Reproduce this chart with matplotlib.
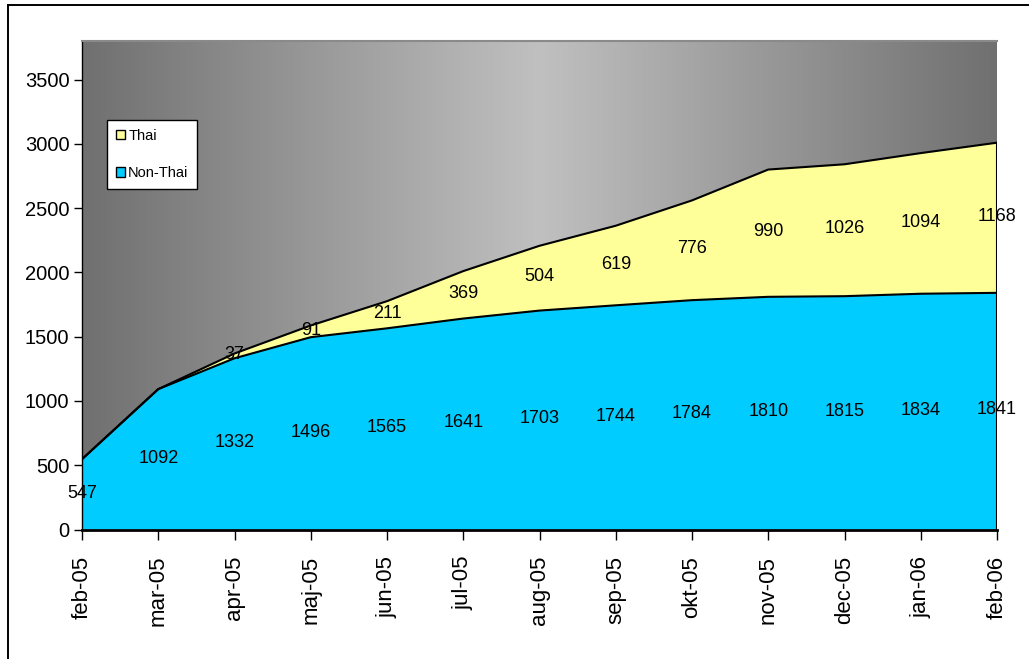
import numpy as np
import matplotlib
matplotlib.use("Agg")
import matplotlib.pyplot as plt
from matplotlib.patches import Patch
from matplotlib.lines import Line2D

plt.rcParams["font.family"] = ["Liberation Sans", "DejaVu Sans"]

# Monthly counts
months = ["feb-05", "mar-05", "apr-05", "maj-05", "jun-05", "jul-05", "aug-05",
          "sep-05", "okt-05", "nov-05", "dec-05", "jan-06", "feb-06"]
non_thai = [547, 1092, 1332, 1496, 1565, 1641, 1703, 1744, 1784, 1810, 1815, 1834, 1841]
thai = [None, None, 37, 91, 211, 369, 504, 619, 776, 990, 1026, 1094, 1168]
y_ticks = [0, 500, 1000, 1500, 2000, 2500, 3000, 3500]
y_max = 3800

W, H = 1029, 659
fig = plt.figure(figsize=(W / 100, H / 100), dpi=100)
fig.patch.set_facecolor("white")

# outer frame (top and left edges)
fig.add_artist(Line2D([8 / W, 8 / W], [0, 1 - 5 / H], color="black", lw=1.4,
                      transform=fig.transFigure))
fig.add_artist(Line2D([8 / W, 1], [1 - 5 / H, 1 - 5 / H], color="black", lw=1.4,
                      transform=fig.transFigure))

left, right, top, bottom = 82, 997, 41, 529.5
ax = fig.add_axes([left / W, 1 - bottom / H, (right - left) / W, (bottom - top) / H])

x = np.arange(len(months))
nt = np.array(non_thai, dtype=float)
th = np.array([0 if v is None else v for v in thai], dtype=float)
total = nt + th

# horizontal gray gradient background: dark at the edges, light in the middle
n = 400
t = np.abs(np.linspace(0, 1, n) - 0.5) * 2
lum = (0xC0 - (0xC0 - 0x70) * t) / 255.0
grad = np.stack([lum, lum, lum], axis=-1)[None, :, :]
ax.imshow(grad, extent=[x[0], x[-1], 0, y_max], aspect="auto", zorder=0,
          interpolation="bicubic")

ax.fill_between(x, 0, nt, facecolor="#00CCFF", edgecolor="none", zorder=2)
ax.fill_between(x, nt, total, facecolor="#FFFF99", edgecolor="none", zorder=2)
ax.plot(x, nt, color="black", lw=1.5, zorder=3)
ax.plot(x, total, color="black", lw=1.5, zorder=3)
ax.plot([x[-1], x[-1]], [0, total[-1]], color="black", lw=1.5, zorder=3)

# value labels, centred in each band
for xi, v in zip(x, non_thai):
    ax.text(xi, v / 2 + 10, str(v), ha="center", va="center", fontsize=13,
            color="black", zorder=5, clip_on=False)
for xi, base, v in zip(x, non_thai, thai):
    if v is None:
        continue
    ax.text(xi, base + v / 2 + 10, str(v), ha="center", va="center", fontsize=13,
            color="black", zorder=5, clip_on=False)

ax.set_xlim(x[0], x[-1])
ax.set_ylim(0, y_max)
ax.set_yticks(y_ticks)
ax.set_yticklabels([str(v) for v in y_ticks], fontsize=14.5)
ax.set_xticks(x)
ax.set_xticklabels(months, rotation=90, fontsize=16, va="top")
ax.tick_params(axis="y", length=6, width=1, pad=3, direction="out")
ax.tick_params(axis="x", length=7, width=1, pad=12, direction="out")

ax.spines["right"].set_visible(False)
ax.spines["top"].set_color("#8a8a8a")
ax.spines["top"].set_linewidth(1.5)
ax.spines["left"].set_color("black")
ax.spines["left"].set_linewidth(1.0)
ax.spines["bottom"].set_color("black")
ax.spines["bottom"].set_linewidth(2.0)
ax.spines["bottom"].set_zorder(4)

handles = [Patch(facecolor="#FFFF99", edgecolor="black", lw=1.0, label="Thai"),
           Patch(facecolor="#00CCFF", edgecolor="black", lw=1.0, label="Non-Thai")]
leg = fig.legend(handles=handles, loc="upper left",
                 bbox_to_anchor=(107 / W, 1 - 120 / H), fontsize=10.5,
                 frameon=True, fancybox=False, framealpha=1, edgecolor="black",
                 handlelength=0.6, handleheight=0.6, handletextpad=0.25,
                 labelspacing=1.6, borderpad=0.6, borderaxespad=0)
leg.get_frame().set_linewidth(1.0)

fig.savefig("out.png", dpi=100)
